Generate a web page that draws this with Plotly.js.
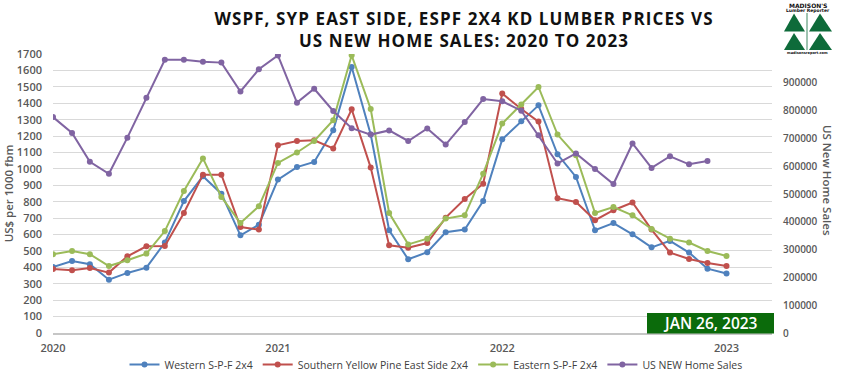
<!DOCTYPE html>
<html><head><meta charset="utf-8">
<script src="https://cdn.plot.ly/plotly-3.0.1.min.js"></script>
<style>html,body{margin:0;padding:0;background:#fff}#chart{width:850px;height:375px}</style>
</head><body><div id="chart"></div>
<script>
// ---- DATA ----
const months = [
 '2020-01-01','2020-02-01','2020-03-01','2020-04-01','2020-05-01','2020-06-01','2020-07-01','2020-08-01','2020-09-01','2020-10-01','2020-11-01','2020-12-01',
 '2021-01-01','2021-02-01','2021-03-01','2021-04-01','2021-05-01','2021-06-01','2021-07-01','2021-08-01','2021-09-01','2021-10-01','2021-11-01','2021-12-01',
 '2022-01-01','2022-02-01','2022-03-01','2022-04-01','2022-05-01','2022-06-01','2022-07-01','2022-08-01','2022-09-01','2022-10-01','2022-11-01','2022-12-01',
 '2023-01-01'];
const homeMonths = [
 '2020-01-01','2020-02-01','2020-03-01','2020-04-01','2020-05-01','2020-06-01','2020-07-01','2020-08-01','2020-09-01','2020-10-01','2020-11-01','2020-12-01',
 '2021-01-01','2021-02-01','2021-03-01','2021-04-01','2021-05-01','2021-06-01','2021-07-01','2021-08-01','2021-09-01','2021-10-01','2021-11-01','2021-12-01',
 '2022-01-01','2022-02-01','2022-03-01','2022-04-01','2022-05-01','2022-06-01','2022-07-01','2022-08-01','2022-09-01','2022-10-01','2022-11-01','2022-12-01'];
const westernSPF = [402,439,419,325,366,398,551,804,955,849,595,660,
 935,1011,1042,1235,1621,1209,626,449,492,614,630,804,
 1180,1290,1387,1089,951,626,670,601,522,561,490,392,362];
const southernYP = [390,382,396,368,467,528,530,731,965,965,646,630,
 1144,1170,1174,1124,1363,1008,534,520,548,703,816,910,
 1459,1365,1288,821,798,687,748,795,630,490,451,427,408];
const easternSPF = [480,500,480,408,443,484,621,865,1064,829,670,772,
 1036,1100,1170,1296,1692,1365,731,540,575,697,717,971,
 1276,1392,1499,1209,1083,731,768,717,634,575,551,500,469];
const homeSales = [777000,720000,616000,573000,703000,847000,983000,983000,976000,973000,869000,949000,
 999000,829000,879000,799000,737000,714000,729000,691000,736000,678000,759000,842000,
 834000,800000,712000,610000,646000,590000,536000,682000,594000,636000,607000,619000];
const yearTickVals = ['2020-01-01','2021-01-01','2022-01-01','2023-01-01'];
const yearTickText = ['2020','2021','2022','2023'];
const rightTickVals = [0,100000,200000,300000,400000,500000,600000,700000,800000,900000];

// ---- LAYOUT HELPERS ----
const L = 53, R = 772, T = 54, B = 333;
const px = v => (v - L) / (R - L);
const py = v => (B - v) / (B - T);
const tick = {family: 'Open Sans', size: 11, color: '#595959', weight: 600};

function series(name, x, y, color, axis) {
  return {type: 'scatter', mode: 'lines+markers', name, x, y, yaxis: axis,
    line: {color, width: 2}, marker: {color, size: 6}};
}
const data = [
  series('Western S-P-F 2x4', months, westernSPF, '#4f81bd', 'y'),
  series('Southern Yellow Pine East Side 2x4', months, southernYP, '#c0504d', 'y'),
  series('Eastern S-P-F 2x4', months, easternSPF, '#9bbb59', 'y'),
  series('US NEW Home Sales', homeMonths, homeSales, '#8064a2', 'y2')
];

const green = '#0e6b3a';
const tri = (ax, ay, x0, x1, by) => ({type: 'path', xref: 'paper', yref: 'paper',
  path: `M ${px(ax)},${py(ay)} L ${px(x0)},${py(by)} L ${px(x1)},${py(by)} Z`,
  fillcolor: green, line: {width: 0}, layer: 'above'});
const note = (text, x, y, font, extra) => Object.assign({text, xref: 'paper', yref: 'paper',
  x: px(x), y: py(y), xanchor: 'center', yanchor: 'middle', showarrow: false, font}, extra || {});

const ls = s => '<span style="letter-spacing:1.1px">' + s + '</span>';

const layout = {
  width: 850, height: 375, autosize: false,
  margin: {l: L, r: 850 - R, t: T, b: 375 - B, autoexpand: false},
  paper_bgcolor: '#fff', plot_bgcolor: '#fff',
  font: {family: 'Open Sans', color: '#595959'},
  title: {text: ls('WSPF, SYP EAST SIDE, ESPF 2X4 KD LUMBER PRICES VS') + '<br>' + ls('US NEW HOME SALES: 2020 TO 2023'),
    font: {family: 'Open Sans', size: 17, color: '#111', weight: 700},
    x: 464 / 850, xanchor: 'center', xref: 'container', y: 1 - 24.5 / 375, yanchor: 'middle', yref: 'container',
    automargin: false},
  showlegend: true,
  legend: {orientation: 'h', x: px(436), xref: 'paper', xanchor: 'center',
    y: py(350), yref: 'paper', yanchor: 'top', font: {family: 'Open Sans', size: 10.5, color: '#404040'},
    itemwidth: 30, tracegroupgap: 0, bgcolor: 'rgba(0,0,0,0)'},
  xaxis: {type: 'date', range: ['2020-01-01', '2023-03-16'], tickvals: yearTickVals, ticktext: yearTickText,
    showgrid: false, zeroline: false, showline: true, linecolor: '#c6c6c6', linewidth: 2,
    tickfont: tick, ticks: '', ticklabelstandoff: 4, fixedrange: true, automargin: false},
  yaxis: {range: [0, 1700], dtick: 100, tick0: 0, showgrid: true, gridcolor: '#d9d9d9', gridwidth: 1,
    zeroline: false, tickfont: tick, ticks: '', ticklabelstandoff: 10, automargin: false,
    title: {text: 'US$ per 1000 fbm', font: {family: 'Open Sans', size: 11.5, color: '#595959', weight: 600}, standoff: 0}},
  yaxis2: {overlaying: 'y', side: 'right', range: [0, 1004000], tickvals: rightTickVals, tickformat: 'd',
    showgrid: false, zeroline: false, tickfont: {family: 'Open Sans', size: 10, color: '#595959', weight: 600},
    ticks: '', ticklabelstandoff: 10, automargin: false},
  shapes: [
    {type: 'rect', xref: 'paper', yref: 'paper', x0: px(647), x1: px(774), y0: py(333.5), y1: py(313),
      fillcolor: '#0b6b0b', line: {width: 0}, layer: 'above'},
    tri(794, 13.5, 784, 805, 31.5), tri(820, 13.5, 809, 832, 31.5),
    tri(794, 33, 784, 805, 50), tri(820, 33, 809, 832, 50),
    {type: 'line', xref: 'paper', yref: 'paper', x0: px(807), x1: px(807), y0: py(13), y1: py(50),
      line: {color: green, width: 0.8}, layer: 'above'}
  ],
  annotations: [
    note('JAN 26, 2023', 710.5, 323, {family: 'Open Sans', size: 15.5, color: '#fff', weight: 600}),
    note('US New Home Sales', 828, 180, {family: 'Open Sans', size: 11.5, color: '#595959', weight: 600}, {textangle: 90}),
    note("MADISON'S", 808, 5, {family: 'DejaVu Sans', size: 6, color: '#111', weight: 700}),
    note('Lumber Reporter', 808, 10, {family: 'DejaVu Sans', size: 4.5, color: '#111', weight: 700}),
    note('madisonsreport.com', 808, 52.5, {family: 'DejaVu Sans', size: 3.5, color: '#111', weight: 700})
  ]
};
Plotly.newPlot('chart', data, layout, {displayModeBar: false, staticPlot: true});
</script></body></html>
